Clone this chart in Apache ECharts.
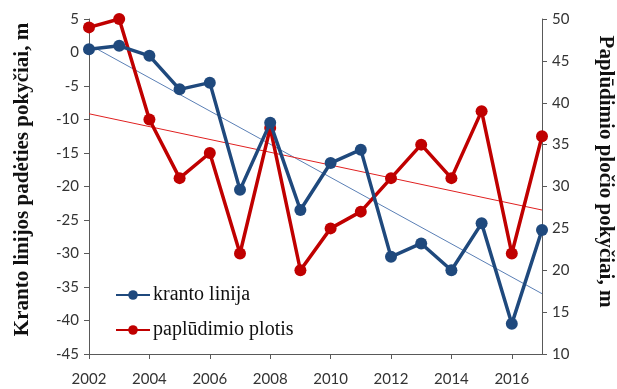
<!DOCTYPE html>
<html>
<head>
<meta charset="utf-8">
<script src="https://cdn.jsdelivr.net/npm/echarts@6/dist/echarts.min.js"></script>
<style>
  html, body { margin: 0; padding: 0; background: #fff; }
  #chart { width: 617px; height: 389px; }
</style>
</head>
<body>
<div id="chart"></div>
<script>
const years = [2002, 2003, 2004, 2005, 2006, 2007, 2008, 2009, 2010, 2011, 2012, 2013, 2014, 2015, 2016, 2017]
const krantoLinija = [0.5, 1, -0.5, -5.5, -4.5, -20.5, -10.5, -23.5, -16.5, -14.5, -30.5, -28.5, -32.5, -25.5, -40.5, -26.5]
const paplPlotis = [49, 50, 38, 31, 34, 22, 37, 20, 25, 27, 31, 35, 31, 39, 22, 36]

// least squares trend, like the excel trendline
const trend = (xs, ys) => {
  const n = xs.length
  const mx = xs.reduce((a, b) => a + b, 0) / n
  const my = ys.reduce((a, b) => a + b, 0) / n
  let sxy = 0, sxx = 0
  xs.forEach((x, i) => { sxy += (x - mx) * (ys[i] - my); sxx += (x - mx) * (x - mx) })
  const k = sxy / sxx
  const first = xs[0], last = xs[n - 1]
  return [[first, my + k * (first - mx)], [last, my + k * (last - mx)]]
}

const pairs = (ys) => years.map((y, i) => [y, ys[i]])

const blue = '#1f497d'
const red = '#c00000'
const axisColor = '#595959'
const labelStyle = { color: '#333', fontSize: 15, fontFamily: 'Lato' }
const nameStyle = { color: '#111', fontSize: 21, fontWeight: 'bold', fontFamily: 'Liberation Serif' }

const chart = echarts.init(document.getElementById('chart'))
chart.setOption({
  animation: false,
  grid: { left: 89, right: 75, top: 19, bottom: 35, outerBoundsMode: 'none' },
  legend: {
    data: ['kranto linija', 'paplūdimio plotis'],
    orient: 'vertical',
    left: 110,
    top: 280,
    itemWidth: 34,
    itemHeight: 12,
    itemGap: 15,
    textStyle: { fontSize: 20, fontFamily: 'Liberation Serif', color: '#111', padding: [0, 0, 0, -2] }
  },
  xAxis: {
    type: 'value',
    min: 2002,
    max: 2017,
    interval: 2,
    splitLine: { show: false },
    axisLine: { onZero: false, lineStyle: { color: axisColor } },
    axisTick: { length: 5, lineStyle: { color: axisColor } },
    axisLabel: Object.assign({ margin: 18, showMaxLabel: false, formatter: v => String(v) }, labelStyle)
  },
  yAxis: [
    {
      type: 'value',
      min: -45,
      max: 5,
      interval: 5,
      name: 'Kranto linijos padėties pokyčiai, m',
      nameLocation: 'middle',
      nameRotate: 90,
      nameGap: 56,
      nameTextStyle: Object.assign({ padding: [0, 0, 0, 14] }, nameStyle),
      splitLine: { show: false },
      axisLine: { show: true, onZero: false, lineStyle: { color: axisColor } },
      axisTick: { show: true, length: 5, lineStyle: { color: axisColor } },
      axisLabel: Object.assign({ margin: 10 }, labelStyle)
    },
    {
      type: 'value',
      min: 10,
      max: 50,
      interval: 5,
      name: 'Paplūdimio pločio pokyčiai, m',
      nameLocation: 'middle',
      nameRotate: -90,
      nameGap: 53,
      nameTextStyle: Object.assign({ padding: [0, 30, 0, 0] }, nameStyle),
      splitLine: { show: false },
      axisLine: { show: true, onZero: false, lineStyle: { color: axisColor } },
      axisTick: { show: true, length: 5, lineStyle: { color: axisColor } },
      axisLabel: Object.assign({ margin: 10 }, labelStyle)
    }
  ],
  series: [
    {
      name: 'kranto linija trend',
      type: 'line',
      data: trend(years, krantoLinija),
      showSymbol: false,
      silent: true,
      lineStyle: { color: '#5a7fb5', width: 1 },
      z: 1
    },
    {
      name: 'paplūdimio plotis trend',
      type: 'line',
      yAxisIndex: 1,
      data: trend(years, paplPlotis),
      showSymbol: false,
      silent: true,
      lineStyle: { color: '#e02020', width: 1 },
      z: 1
    },
    {
      name: 'kranto linija',
      type: 'line',
      data: pairs(krantoLinija),
      symbol: 'circle',
      symbolSize: 12,
      itemStyle: { color: blue },
      lineStyle: { color: blue, width: 3.5 },
      z: 3
    },
    {
      name: 'paplūdimio plotis',
      type: 'line',
      yAxisIndex: 1,
      data: pairs(paplPlotis),
      symbol: 'circle',
      symbolSize: 12,
      itemStyle: { color: red },
      lineStyle: { color: red, width: 3.5 },
      z: 2
    }
  ]
})
</script>
</body>
</html>
